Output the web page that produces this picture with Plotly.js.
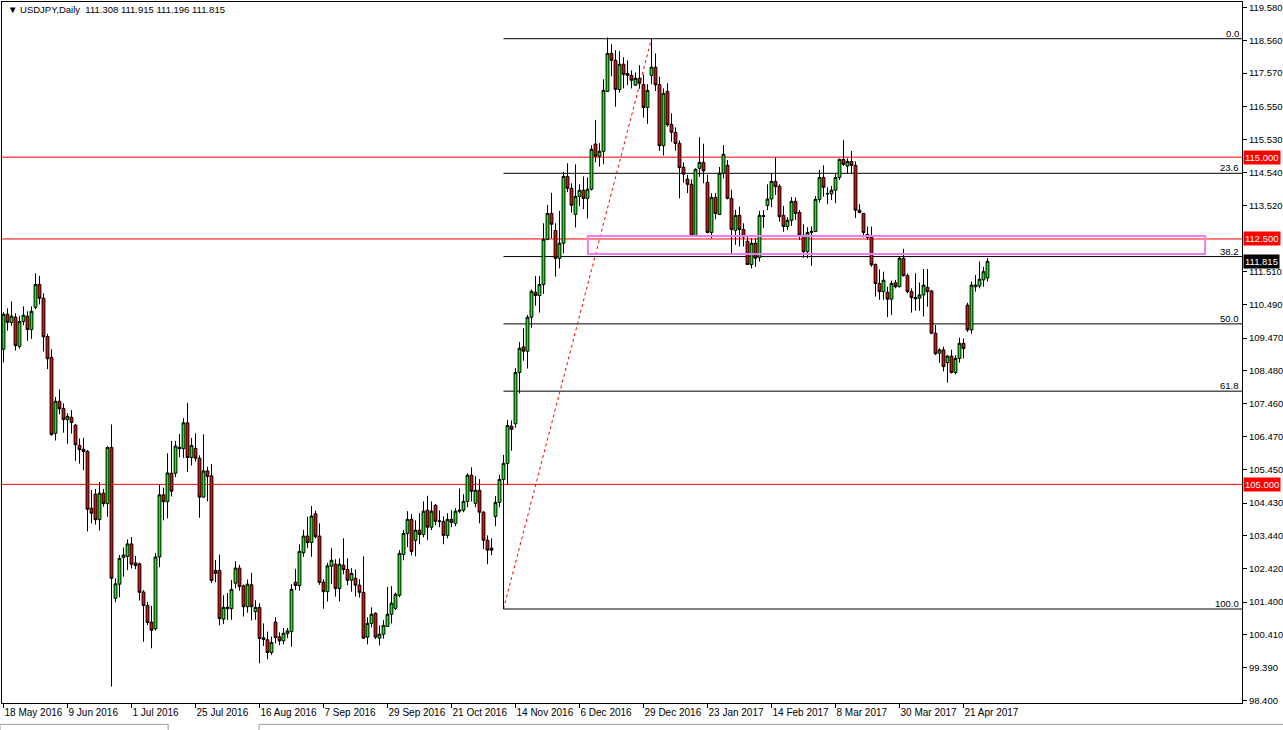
<!DOCTYPE html>
<html>
<head>
<meta charset="utf-8">
<script src="https://cdn.plot.ly/plotly-3.0.1.min.js"></script>
<style>
  html, body { margin: 0; padding: 0; background: #ffffff; }
  #chart { width: 1283px; height: 730px; }
</style>
</head>
<body>
<div id="chart"></div>
<script>
// ---- Data (USDJPY daily) ----
const symbol = 'USDJPY';
const timeframe = 'Daily';

const open = [
109.13,110.20,109.95,110.11,109.21,109.98,110.14,109.73,110.41,111.11,
110.69,109.52,108.88,106.56,107.54,107.32,106.98,107.05,106.81,106.19,
106.07,106.01,104.27,104.70,103.92,104.73,104.41,106.13,101.52,101.95,
102.77,102.80,103.18,102.60,102.57,101.71,101.30,100.79,100.59,102.78,
104.68,104.47,105.34,105.34,106.13,106.09,106.88,105.82,106.10,105.80,
104.61,105.41,105.26,102.37,102.37,100.88,101.20,101.20,101.98,102.44,
101.90,101.26,101.93,101.11,101.24,100.31,100.25,99.86,100.79,100.34,
100.22,100.44,100.50,102.01,101.91,102.91,103.42,103.22,104.10,103.42,
102.01,101.72,102.50,102.56,101.82,102.53,102.40,102.07,102.13,101.92,
101.70,100.33,100.75,101.06,100.30,100.42,100.66,101.03,101.21,101.61,
102.86,103.50,103.93,103.29,103.60,103.47,104.21,103.69,104.36,103.87,
103.87,103.44,103.93,103.81,104.18,104.21,104.48,105.28,104.42,104.82,
104.15,103.29,103.05,104.02,104.45,105.15,105.64,106.78,106.85,108.42,
109.20,109.07,110.11,110.87,110.77,111.11,112.49,113.28,112.76,111.91,
112.37,114.41,114.05,113.25,113.80,113.99,113.74,114.02,115.40,115.03,
115.18,117.01,118.17,117.96,117.07,117.84,117.56,117.50,117.20,117.41,
117.22,116.52,117.50,117.75,117.22,115.35,117.01,116.00,115.76,115.42,
114.69,114.33,114.17,112.59,114.66,114.84,114.23,112.70,113.77,113.25,
114.51,114.75,113.74,112.76,113.22,112.79,112.43,111.72,112.37,111.94,
113.19,113.52,113.72,114.26,114.11,113.22,112.88,113.07,113.65,113.31,
112.61,112.11,112.70,112.73,113.71,114.38,113.89,113.88,113.99,114.38,
114.93,114.73,114.87,114.75,113.38,113.28,112.64,112.55,111.72,111.14,
110.89,110.87,110.66,111.16,111.04,111.91,111.38,110.89,110.71,110.69,
110.79,111.02,110.91,109.62,109.01,109.11,108.72,108.92,108.42,108.85,
109.31,110.48,109.72,111.04,111.06,111.25,111.308
];
const high = [
110.26,110.38,110.59,110.23,110.15,110.44,110.29,110.44,111.45,111.37,
110.84,109.60,109.13,107.67,107.90,107.48,107.17,107.27,106.85,106.40,
106.42,106.05,104.83,104.86,105.07,104.86,106.16,106.83,102.13,102.84,
103.07,103.32,103.39,102.81,102.61,101.77,101.41,101.29,102.90,104.99,
104.90,105.95,106.33,106.33,106.54,107.03,107.49,106.42,106.56,105.89,
106.53,105.54,105.62,102.69,102.85,101.61,101.68,102.08,102.65,102.54,
101.94,102.09,102.30,101.46,101.37,100.75,100.50,100.35,100.94,100.48,
100.61,100.61,101.95,102.42,103.17,103.61,104.01,104.34,104.20,103.81,
102.10,102.60,103.05,102.71,102.74,103.35,102.74,102.44,102.40,102.10,
102.80,100.94,101.24,101.09,100.69,100.85,101.87,101.89,101.69,102.99,
103.61,104.18,104.09,103.90,104.12,104.48,104.65,104.48,104.40,104.21,
104.02,104.12,104.21,104.27,104.88,104.70,105.34,105.52,105.25,105.16,
104.18,103.44,103.35,104.64,105.29,105.90,106.97,106.95,108.55,109.35,
109.77,110.18,110.96,111.37,111.37,112.98,113.54,113.91,112.98,113.36,
114.55,114.81,114.20,114.78,114.17,114.41,114.38,115.37,116.14,115.43,
117.38,118.66,118.45,118.27,118.24,118.05,117.96,117.65,117.59,117.81,
117.53,117.23,118.62,118.17,117.46,117.10,117.26,116.34,115.91,115.51,
114.84,114.46,114.32,114.66,115.61,115.41,114.46,113.90,113.90,114.70,
115.37,114.91,114.00,113.39,113.49,112.98,112.62,112.52,112.52,113.36,
113.38,114.17,114.51,114.98,114.17,113.51,113.16,113.78,113.77,113.38,
112.95,112.86,112.88,113.81,114.61,114.75,114.08,114.12,114.51,114.96,
115.52,114.96,115.19,114.87,113.56,113.30,112.88,112.88,111.75,111.57,
111.50,111.04,111.23,111.25,111.96,112.20,111.45,110.99,111.45,111.17,
111.58,111.58,110.94,109.87,109.16,109.21,108.95,109.11,108.95,109.48,
109.46,110.55,111.20,111.40,111.81,111.65,111.915
];
const low = [
108.73,109.70,109.85,109.09,109.15,109.86,109.39,109.45,110.35,110.50,
109.06,108.52,106.49,106.34,107.14,106.58,106.24,106.55,105.72,105.63,
105.43,103.56,103.81,103.77,103.59,104.32,104.01,98.82,101.40,101.55,
102.18,102.38,102.43,102.41,101.45,100.19,100.70,99.99,100.53,102.47,
103.90,103.96,104.63,105.22,105.83,105.81,105.38,105.58,105.70,103.98,
104.60,104.48,101.98,102.01,100.69,100.73,100.86,100.86,101.82,101.75,
100.96,101.08,100.84,100.86,99.53,100.06,99.65,99.79,100.14,100.09,
100.11,100.30,100.04,101.77,101.75,102.78,103.05,102.79,103.35,101.93,
101.20,101.42,101.96,101.57,101.42,102.25,101.92,101.72,101.57,101.54,
100.28,100.11,100.63,100.27,100.08,100.28,100.65,100.75,101.16,101.55,
102.68,103.08,102.83,102.80,103.17,103.38,103.29,103.60,103.75,103.69,
103.17,103.35,103.69,103.72,104.12,104.15,104.30,104.48,104.30,103.81,
103.02,102.56,102.83,103.72,104.30,101.19,104.98,106.03,106.73,107.78,
108.78,108.54,109.79,110.46,110.25,110.82,112.46,112.52,111.35,111.60,
112.06,113.93,113.30,112.85,113.50,113.41,113.13,113.98,114.84,114.71,
114.78,117.00,117.47,116.54,116.97,117.10,117.20,117.10,117.18,117.09,
116.21,116.02,117.23,117.02,115.19,115.05,115.93,115.47,115.20,113.74,
114.22,113.90,112.57,112.57,114.40,114.20,112.67,112.52,113.10,113.23,
114.35,113.71,112.06,112.32,112.27,112.27,111.70,111.60,111.65,111.81,
112.84,113.38,113.47,113.84,113.03,112.72,112.77,112.90,113.08,112.47,
111.93,111.91,111.68,112.71,113.61,113.79,113.56,113.69,113.59,114.30,
114.73,114.51,114.51,113.14,113.28,112.55,112.47,111.65,110.74,110.64,
110.64,110.11,110.18,110.99,111.02,111.35,110.84,110.25,110.31,110.30,
110.13,110.43,109.59,108.95,108.72,108.45,108.11,108.39,108.36,108.72,
108.85,109.66,109.60,110.89,110.99,111.04,111.196
];
const close = [
110.20,109.95,110.14,109.24,109.98,110.17,109.73,110.29,111.11,110.69,
109.51,108.84,106.52,107.54,107.31,106.98,107.08,106.89,106.21,106.06,
106.00,104.24,104.12,103.92,104.73,104.41,106.13,102.13,101.96,102.74,
102.84,103.18,102.56,102.52,101.70,101.30,100.78,100.54,102.78,104.68,
104.47,105.35,104.79,106.17,106.09,106.88,105.82,106.19,105.80,104.61,
105.41,105.24,102.06,102.28,100.90,101.24,101.24,101.79,102.44,101.88,
101.26,101.95,101.26,101.24,100.29,100.26,99.86,100.17,100.32,100.22,
100.45,100.52,101.79,101.91,102.95,103.42,103.22,104.03,103.40,102.00,
101.72,102.51,102.68,101.82,102.56,102.40,102.07,102.28,101.92,101.70,
100.30,100.75,101.03,100.33,100.42,100.69,101.03,101.37,101.64,102.89,
103.50,103.93,102.95,103.60,103.47,104.18,103.69,104.18,103.87,103.88,
103.44,103.93,103.84,104.18,104.21,104.48,105.28,104.79,104.82,104.15,
103.29,102.99,102.99,104.45,105.15,105.64,106.80,106.68,108.42,109.16,
109.07,110.11,110.90,110.77,111.11,112.49,113.28,112.95,111.91,112.37,
114.41,114.05,113.53,113.80,113.99,113.74,114.02,115.24,115.03,115.18,
117.04,118.17,117.96,117.07,117.84,117.53,117.50,117.35,117.41,117.26,
116.52,117.04,117.75,117.21,115.35,116.95,115.99,115.76,115.42,114.68,
114.48,114.17,112.59,114.63,114.84,114.58,112.70,113.77,113.28,114.51,
115.09,113.74,112.79,113.22,112.79,112.56,111.72,112.37,111.91,113.22,
113.21,113.72,114.26,114.10,113.18,112.88,113.07,113.65,113.28,112.62,
112.11,112.70,112.73,113.71,114.38,114.08,113.88,113.99,114.38,114.93,
114.78,114.87,114.75,113.38,113.31,112.70,112.55,111.71,111.14,110.89,
111.24,110.66,111.14,111.04,111.91,111.38,110.89,110.71,110.67,110.79,
111.09,110.89,109.62,108.99,109.11,108.60,108.92,108.42,108.85,109.31,
109.15,109.72,111.09,111.09,111.27,111.50,111.815
];

// x-axis date labels (one every 16 bars, as on the chart)
const dateLabels = ['18 May 2016','9 Jun 2016','1 Jul 2016','25 Jul 2016','16 Aug 2016',
  '7 Sep 2016','29 Sep 2016','21 Oct 2016','14 Nov 2016','6 Dec 2016','29 Dec 2016',
  '23 Jan 2017','14 Feb 2017','8 Mar 2017','30 Mar 2017','21 Apr 2017'];
const dateLabelStep = 16;

// price-scale tick labels (112.510 is hidden behind the 112.500 box on the chart)
const priceTicks = [119.580,118.560,117.570,116.550,115.530,114.540,113.520,
  111.510,110.490,109.470,108.480,107.460,106.470,105.450,104.430,103.440,102.420,
  101.400,100.410,99.390,98.400];

// horizontal support/resistance lines
const hLines = [115.000, 112.500, 105.000];

// Fibonacci retracement: levels (%) from the swing-low bar (9 Nov 2016) to the swing-high bar (3 Jan 2017)
const fibLevels = [0.0, 23.6, 38.2, 50.0, 61.8, 100.0];
const fibLowBar = 125;
const fibHighBar = 162;

// highlighted zone (rectangle)
const zoneTop = 112.59;
const zoneBottom = 112.04;
const zoneFromBar = 146.1;
const zoneToBar = 300.4;

// ---- Build ----
const n = open.length;
const xs = open.map((_, i) => i);
const fibLow = low[fibLowBar];
const fibHigh = high[fibHighBar];

const xMin = -0.375, xMax = 309.625;
const yMin = 98.318, yMax = 119.742;

const FONT = 'Liberation Sans, Arial, sans-serif';

const candle = {
  type: 'candlestick',
  x: xs, open: open, high: high, low: low, close: close,
  increasing: { line: { color: '#000000', width: 1 }, fillcolor: '#00FF00' },
  decreasing: { line: { color: '#000000', width: 1 }, fillcolor: '#FF0000' },
  whiskerwidth: 0,
  hoverinfo: 'skip',
  showlegend: false
};

const shapes = [];
hLines.forEach(v => shapes.push({
  type: 'line', xref: 'paper', yref: 'y', x0: 0, x1: 1, y0: v, y1: v,
  line: { color: '#FF0000', width: 1 }, layer: 'below'
}));
fibLevels.forEach(l => {
  const v = fibHigh - l / 100 * (fibHigh - fibLow);
  shapes.push({
    type: 'line', xref: 'x', yref: 'y', x0: fibLowBar, x1: xMax, y0: v, y1: v,
    line: { color: '#000000', width: 1 }, layer: 'below'
  });
});
shapes.push({
  type: 'line', xref: 'x', yref: 'y', x0: fibLowBar, y0: fibLow, x1: fibHighBar, y1: fibHigh,
  line: { color: '#FF0000', width: 1, dash: '3px,3px' }, layer: 'below'
});
shapes.push({
  type: 'rect', xref: 'x', yref: 'y', x0: zoneFromBar, x1: zoneToBar, y0: zoneBottom, y1: zoneTop,
  line: { color: '#F07CF0', width: 2 }, fillcolor: 'rgba(0,0,0,0)', layer: 'above'
});
// bottom tab strip
shapes.push({ type: 'rect', xref: 'paper', yref: 'paper', x0: -0.0016, x1: 0.134, y0: -0.045, y1: -0.0305,
  line: { color: '#9a9a9a', width: 1 }, fillcolor: '#ffffff' });
shapes.push({ type: 'rect', xref: 'paper', yref: 'paper', x0: 0.2073, x1: 1.04, y0: -0.045, y1: -0.0305,
  line: { color: '#9a9a9a', width: 1 }, fillcolor: '#ffffff' });

const annotations = [];
const f3 = v => v.toFixed(3);
annotations.push({
  xref: 'paper', yref: 'paper', x: 0, y: 1, xanchor: 'left', yanchor: 'top',
  xshift: 4, yshift: 0, showarrow: false,
  text: '\u25BC\u00A0' + symbol + ',' + timeframe + '\u00A0\u00A0' +
        [open[n-1], high[n-1], low[n-1], close[n-1]].map(f3).join('\u00A0'),
  font: { family: FONT, size: 9.5, color: '#000000' }
});
fibLevels.forEach(l => {
  const v = fibHigh - l / 100 * (fibHigh - fibLow);
  annotations.push({
    xref: 'paper', yref: 'y', x: 1, y: v, xanchor: 'right', yanchor: 'bottom',
    xshift: -1, yshift: -2, showarrow: false, text: l.toFixed(1),
    font: { family: FONT, size: 9.5, color: '#000000' }
  });
});
hLines.forEach(v => annotations.push({
  xref: 'paper', yref: 'y', x: 1, y: v, xanchor: 'left', yanchor: 'middle',
  xshift: 1, showarrow: false, text: f3(v), bgcolor: '#FF0000', borderpad: 1,
  font: { family: FONT, size: 9.5, color: '#FFFFFF' }
}));
annotations.push({
  xref: 'paper', yref: 'y', x: 1, y: close[n-1], xanchor: 'left', yanchor: 'middle',
  xshift: 1, showarrow: false, text: f3(close[n-1]), bgcolor: '#000000', borderpad: 1,
  font: { family: FONT, size: 9.5, color: '#FFFFFF' }
});

const layout = {
  width: 1283, height: 730,
  margin: { l: 2, r: 41, t: 2, b: 27, pad: 0 },
  paper_bgcolor: '#FFFFFF', plot_bgcolor: '#FFFFFF',
  showlegend: false,
  boxgap: 0.3,
  boxgroupgap: 0,
  dragmode: false,
  xaxis: {
    type: 'linear', range: [xMin, xMax], fixedrange: true,
    rangeslider: { visible: false },
    showgrid: false, zeroline: false,
    showline: true, mirror: true, linecolor: '#000000', linewidth: 1,
    ticks: 'outside', ticklen: 4, tickcolor: '#000000', tickwidth: 1,
    tickvals: dateLabels.map((_, k) => k * dateLabelStep),
    ticktext: dateLabels,
    ticklabelposition: 'outside right',
    tickangle: 0,
    tickfont: { family: FONT, size: 10, color: '#000000' }
  },
  yaxis: {
    range: [yMin, yMax], fixedrange: true, side: 'right',
    showgrid: false, zeroline: false,
    showline: true, mirror: true, linecolor: '#000000', linewidth: 1,
    ticks: 'outside', ticklen: 4, tickcolor: '#000000', tickwidth: 1,
    tickvals: priceTicks, ticktext: priceTicks.map(f3),
    tickfont: { family: FONT, size: 9.5, color: '#000000' }
  },
  shapes: shapes,
  annotations: annotations
};

Plotly.newPlot('chart', [candle], layout, { staticPlot: true, displayModeBar: false });
</script>
</body>
</html>
